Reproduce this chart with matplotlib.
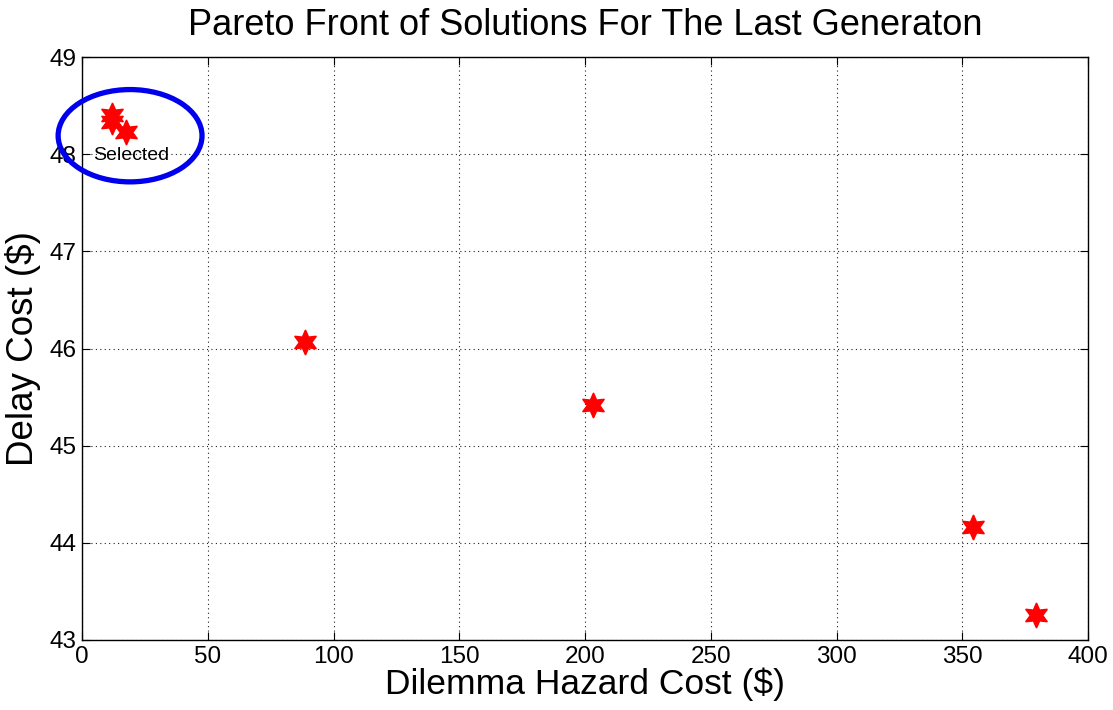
import matplotlib
matplotlib.use("Agg")
import matplotlib.pyplot as plt
from matplotlib.patches import Ellipse

plt.rcParams["font.family"] = ["Liberation Sans", "DejaVu Sans"]

# solutions on the last-generation pareto front
hazard_cost = [12.0, 11.8, 17.4, 88.7, 203.3, 354.3, 379.2]
delay_cost = [48.40, 48.33, 48.23, 46.07, 45.42, 44.16, 43.26]

x_ticks = [0, 50, 100, 150, 200, 250, 300, 350, 400]
y_ticks = [43, 44, 45, 46, 47, 48, 49]

fig = plt.figure(figsize=(11.13, 7.1), dpi=100)
ax = fig.add_axes([0.0737, 0.0986, 0.904, 0.8211])

ax.plot(hazard_cost, delay_cost, linestyle="none", marker=(6, 1, 0),
        ms=18, color="red", mec="red", zorder=3)

# highlight the chosen cluster
ax.add_patch(Ellipse((19.1, 48.19), 57.2, 0.95, fill=False, ec="#0000ee",
                     lw=3.8, clip_on=False, zorder=4))
ax.text(4.5, 47.99, "Selected", fontsize=14, va="center", ha="left")

ax.set_xlim(0, 400)
ax.set_ylim(43, 49)
ax.set_xticks(x_ticks)
ax.set_yticks(y_ticks)
ax.tick_params(direction="in", length=6, top=True, right=True, labelsize=17.5, pad=4)
ax.grid(True, linestyle=(0, (1, 3)), color="#222222", lw=0.8)
for s in ax.spines.values():
    s.set_linewidth(1.0)

ax.set_xlabel("Dilemma Hazard Cost ($)", fontsize=25.5, labelpad=0)
ax.set_ylabel("Delay Cost ($)", fontsize=26.5, labelpad=6)
ax.set_title("Pareto Front of Solutions For The Last Generaton", fontsize=26, pad=16)

fig.savefig("out.png", dpi=100)
